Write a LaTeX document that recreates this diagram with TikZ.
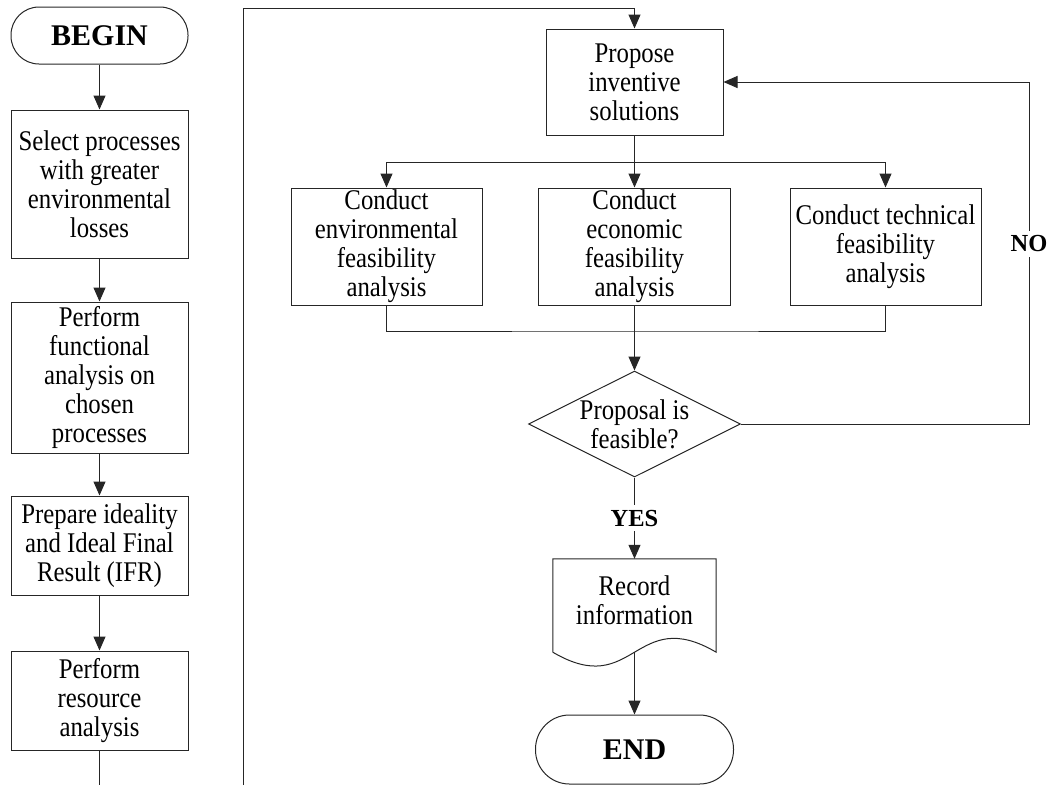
\documentclass[tikz,border=0pt]{standalone}
\usepackage{fontspec}
\setmainfont{Liberation Serif}
\newfontfamily\bodyfont{Liberation Serif}[FakeStretch=0.87]
\usetikzlibrary{arrows.meta,shapes.geometric,calc}
\begin{document}
\begin{tikzpicture}[x=1pt,y=-1pt,
  every node/.style={font=\bodyfont\fontsize{28.5}{29}\selectfont, align=center, inner sep=0pt},
  line/.style={draw=black!85, line width=1pt},
  arrow/.style={line, -{Triangle[length=14pt,width=12pt]}},
  procbox/.style={line, rectangle},
  terminal/.style={line, rectangle, font=\rmfamily\fontsize{30}{34}\selectfont\bfseries},
  decision/.style={line, diamond, minimum width=212pt, minimum height=106pt},
  answer/.style={fill=white, inner sep=5pt, font=\rmfamily\fontsize{24.5}{28}\selectfont\bfseries}
]
\useasboundingbox (0,0) rectangle (1051,785);

% left column
\node[terminal, minimum width=177pt, minimum height=57pt, rounded corners=28pt] (begin) at (99.5,35.5) {BEGIN};
\node[procbox, minimum width=177pt, minimum height=148pt] (select) at (99.5,184) {Select processes\\with greater\\environmental\\losses};
\node[procbox, minimum width=177pt, minimum height=151pt] (functional) at (99.5,377.5) {Perform\\functional\\analysis on\\chosen\\processes};
\node[procbox, minimum width=177pt, minimum height=99pt] (ideality) at (99.5,545.5) {Prepare ideality\\and Ideal Final\\Result (IFR)};
\node[procbox, minimum width=177pt, minimum height=99pt] (resource) at (99.5,700.5) {Perform\\resource\\analysis};
\coordinate (leftend) at (99.5,785);

\draw[arrow] (begin) -- (select);
\draw[arrow] (select) -- (functional);
\draw[arrow] (functional) -- (ideality);
\draw[arrow] (ideality) -- (resource);
\draw[line] (resource) -- (leftend);

% right column
\node[procbox, minimum width=177pt, minimum height=106pt] (propose) at (634.5,82) {Propose\\inventive\\solutions};
\node[procbox, minimum width=191pt, minimum height=117pt] (env) at (386.5,246.5) {Conduct\\environmental\\feasibility\\analysis};
\node[procbox, minimum width=192pt, minimum height=117pt] (econ) at (634.5,246.5) {Conduct\\economic\\feasibility\\analysis};
\node[procbox, minimum width=191pt, minimum height=117pt] (tech) at (885.5,246.5) {Conduct technical\\feasibility\\analysis};
\node[decision] (decide) at (634.5,424) {};
\node (decidetext) at (634.5,424) {Proposal is\\feasible?};
\node[minimum width=163pt, minimum height=93pt] (record) at (634.5,605.5) {};
\node (recordtext) at (634.5,600) {Record\\information};
\node[terminal, minimum width=198pt, minimum height=69pt, rounded corners=34pt] (stop) at (634.5,749.5) {END};

% document outline with wavy bottom edge
\draw[line] (record.south west) -- (record.north west) -- (record.north east) -- (record.south east)
  .. controls ($(record.south)+(0,-48)$) and ($(record.south)+(0,48)$) .. (record.south west);

% loop from the left column into the proposal step
\coordinate (loopbot) at (243,785);
\coordinate (looptop) at (243,8);
\draw[arrow] (loopbot) -- (looptop) -| (propose.north);

% split into the three analyses
\coordinate (split) at (634.5,162);
\draw[arrow] (propose.south) -- (econ.north);
\draw[arrow] (split) -| (env.north);
\draw[arrow] (split) -| (tech.north);

% merge into the decision
\coordinate (merge) at (634.5,331);
\draw[line] (env.south) |- (merge) -| (tech.south);
\draw[arrow] (econ.south) -- (decide.north);

% NO branch back to the proposal
\coordinate (noturn) at (1029,424);
\draw[arrow] (decide.east) -- (noturn) |- (propose.east);
\node[answer] (no) at (1029,244) {NO};

% YES branch
\draw[arrow] (decide.south) -- (record.north);
\node[answer] (yes) at (634.5,518) {YES};

\draw[arrow] (record.south) -- (stop.north);
\end{tikzpicture}
\end{document}
